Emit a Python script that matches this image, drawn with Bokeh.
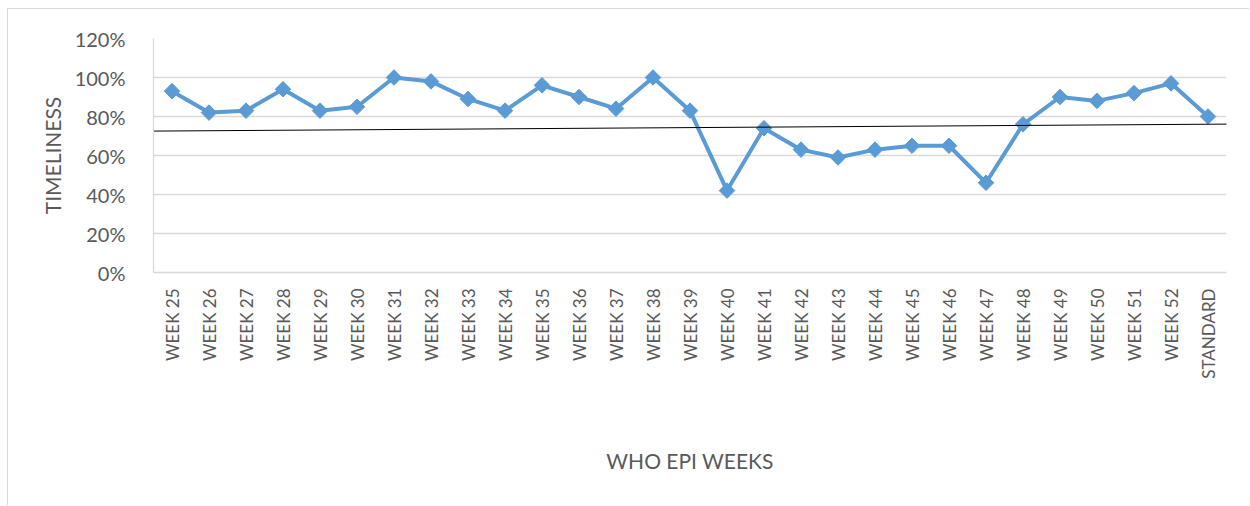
from bokeh.plotting import figure
from bokeh.models import Range1d, FixedTicker, NumeralTickFormatter, ColumnDataSource
from bokeh.embed import file_html
from bokeh.resources import INLINE
import math

# ---- data ----
weeks = ["WEEK 25", "WEEK 26", "WEEK 27", "WEEK 28", "WEEK 29", "WEEK 30", "WEEK 31",
         "WEEK 32", "WEEK 33", "WEEK 34", "WEEK 35", "WEEK 36", "WEEK 37", "WEEK 38",
         "WEEK 39", "WEEK 40", "WEEK 41", "WEEK 42", "WEEK 43", "WEEK 44", "WEEK 45",
         "WEEK 46", "WEEK 47", "WEEK 48", "WEEK 49", "WEEK 50", "WEEK 51", "WEEK 52",
         "STANDARD"]
timeliness = [0.93, 0.82, 0.83, 0.94, 0.83, 0.85, 1.00, 0.98, 0.89, 0.83, 0.96, 0.90,
              0.84, 1.00, 0.83, 0.42, 0.74, 0.63, 0.59, 0.63, 0.65, 0.65, 0.46, 0.76,
              0.90, 0.88, 0.92, 0.97, 0.80]
y_ticks = [0, 0.2, 0.4, 0.6, 0.8, 1.0, 1.2]
# hand-drawn reference line (category-index units, fraction)
trend_x = [-0.63, 28.55]
trend_y = [0.725, 0.761]

BLUE = "#5B9BD5"
GRID = "#D9D9D9"
TXT = "#595959"
FONT = "Lato"

idx = list(range(len(weeks)))
src = ColumnDataSource(dict(x=idx, y=timeliness, label=weeks))

p = figure(width=1242, height=497, output_backend="svg", toolbar_location=None,
           x_range=Range1d(-0.5, len(weeks) - 0.5), y_range=Range1d(0, 1.2),
           min_border_left=145, min_border_right=24, min_border_top=29, min_border_bottom=234)
p.outline_line_color = None
p.background_fill_color = "white"
p.border_fill_color = "white"
p.styles = {"border-left": "1px solid #D9D9D9", "border-top": "1px solid #D9D9D9",
            "margin-left": "7px", "margin-top": "8px"}

# grid
p.xgrid.grid_line_color = None
p.ygrid.grid_line_color = GRID
p.ygrid.grid_line_width = 1.3

# y axis
p.yaxis.ticker = FixedTicker(ticks=y_ticks)
p.yaxis.formatter = NumeralTickFormatter(format="0%")
p.yaxis.axis_line_color = GRID
p.yaxis.axis_line_width = 1.3
p.yaxis.major_tick_line_color = None
p.yaxis.minor_tick_line_color = None
p.yaxis.major_label_standoff = 22
p.yaxis.major_label_text_font = FONT
p.yaxis.major_label_text_font_size = "20px"
p.yaxis.major_label_text_color = TXT
p.yaxis.axis_label = "TIMELINESS"
p.yaxis.axis_label_text_font = FONT
p.yaxis.axis_label_text_font_size = "21px"
p.yaxis.axis_label_text_font_style = "normal"
p.yaxis.axis_label_text_color = TXT
p.yaxis.axis_label_standoff = 7

# x axis
p.xaxis.ticker = FixedTicker(ticks=idx)
p.xaxis.major_label_overrides = {i: w for i, w in zip(idx, weeks)}
p.xaxis.major_label_orientation = math.pi / 2
p.xaxis.axis_line_color = GRID
p.xaxis.axis_line_width = 1.3
p.xaxis.major_tick_line_color = None
p.xaxis.minor_tick_line_color = None
p.xaxis.major_label_standoff = 10
p.xaxis.major_label_text_font = FONT
p.xaxis.major_label_text_font_size = "17px"
p.xaxis.major_label_text_color = TXT
p.xaxis.axis_label = "WHO EPI WEEKS"
p.xaxis.axis_label_text_font = FONT
p.xaxis.axis_label_text_font_size = "21px"
p.xaxis.axis_label_text_font_style = "normal"
p.xaxis.axis_label_text_color = TXT
p.xaxis.axis_label_standoff = 66

# series
p.line("x", "y", source=src, line_color=BLUE, line_width=4, line_join="round")
p.scatter("x", "y", source=src, marker="square", size=11, angle=math.pi / 4,
          fill_color=BLUE, line_color=BLUE)

# reference line
p.line(trend_x, trend_y, line_color="black", line_width=1)

open("out.html", "w").write(file_html(p, INLINE))
